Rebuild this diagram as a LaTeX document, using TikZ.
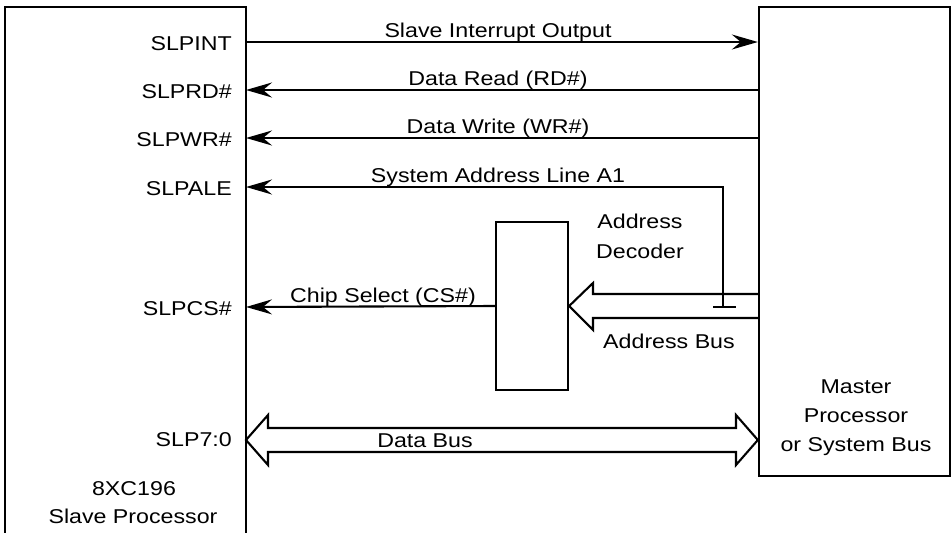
\documentclass[tikz,border=0pt]{standalone}
\usepackage{fontspec}
\setmainfont[FakeStretch=1.16]{Liberation Sans}
\usetikzlibrary{arrows.meta}
\begin{document}
\begin{tikzpicture}[x=1pt,y=-1pt,
  wire/.style={line width=2.1pt},
  sig/.style={wire,-{Stealth[length=26pt,width=15pt,inset=9pt]}},
  lbl/.style={inner sep=0pt,font=\fontsize{20}{24}\selectfont},
  box/.style={draw,line width=2.3pt,inner sep=0pt}]
\useasboundingbox (0,0) rectangle (951,533);
% slave processor box (open at the bottom)
\draw[line width=2.3pt] (5,533) -- (5,7) -- (246,7) -- (246,533);
\coordinate (pint) at (246,42);
\coordinate (prd) at (246,90);
\coordinate (pwr) at (246,138);
\coordinate (pale) at (246,187);
\coordinate (pcs) at (246,307);
\coordinate (pdat) at (246,440);
% master box
\node[box,minimum width=191pt,minimum height=469pt] (master) at (854.5,241.5) {};
% decoder
\node[box,minimum width=72pt,minimum height=168pt] (dec) at (532,306) {};
% pin labels
\node[lbl,anchor=base east] (lint) at (232,50) {SLPINT};
\node[lbl,anchor=base east] (lrd) at (232,98) {SLPRD\#};
\node[lbl,anchor=base east] (lwr) at (232,146) {SLPWR\#};
\node[lbl,anchor=base east] (lale) at (232,195) {SLPALE};
\node[lbl,anchor=base east] (lcs) at (232,315) {SLPCS\#};
\node[lbl,anchor=base east] (ldat) at (232,446) {SLP7:0};
\node[lbl,anchor=base] (s1) at (134,495) {8XC196};
\node[lbl,anchor=base] (s2) at (133,523) {Slave Processor};
% master labels
\node[lbl,anchor=base] (m1) at (856,393) {Master};
\node[lbl,anchor=base] (m2) at (856,422) {Processor};
\node[lbl,anchor=base] (m3) at (856,451) {or System Bus};
% signals
\draw[sig] (pint) -- (master.west |- pint);
\draw[sig] (master.west |- prd) -- (prd);
\draw[sig] (master.west |- pwr) -- (pwr);
\coordinate (a1c) at (723,187);
\coordinate (a1b) at (723,307);
\coordinate (a1l) at (713,307);
\coordinate (a1r) at (736,307);
\draw[sig] (a1b) -- (a1c) -- (pale);
\draw[wire] (a1l) -- (a1r);
\draw[sig] (dec.west) -- (pcs);
\node[lbl,anchor=base] (t1) at (498,37) {Slave Interrupt Output};
\node[lbl,anchor=base] (t2) at (498,85) {Data Read (RD\#)};
\node[lbl,anchor=base] (t3) at (498,133) {Data Write (WR\#)};
\node[lbl,anchor=base] (t4) at (498,182) {System Address Line A1};
\node[lbl,anchor=base] (t5) at (383,302) {Chip Select (CS\#)};
\node[lbl,anchor=base] (t6) at (640,228) {Address};
\node[lbl,anchor=base] (t7) at (640,258) {Decoder};
\node[lbl,anchor=base] (t8) at (669,348) {Address Bus};
% address bus
\draw[wire,line join=miter] (master.west |- 0,294) -- (593,294) -- (593,283) -- (dec.east)
  -- (593,330) -- (593,318) -- (master.west |- 0,318);
% data bus
\draw[wire,line join=miter] (pdat) -- (268,415) -- (268,428) -- (736,428) -- (736,415)
  -- (master.west |- pdat) -- (736,465) -- (736,452) -- (268,452) -- (268,465) -- cycle;
\node[lbl,anchor=base] (t9) at (425,447) {Data Bus};
\end{tikzpicture}
\end{document}
